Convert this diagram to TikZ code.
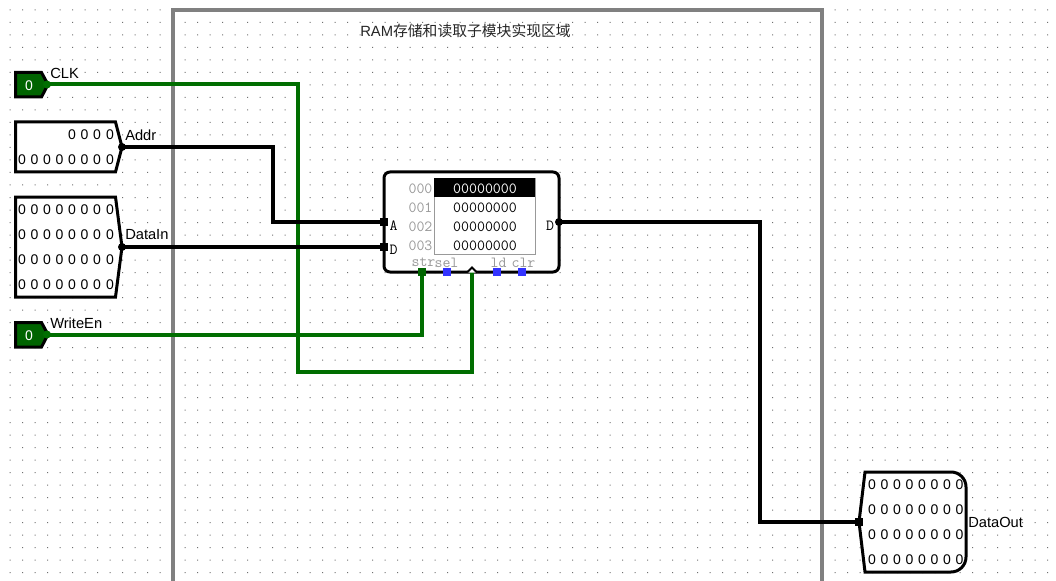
\documentclass[tikz,border=0pt]{standalone}
\usepackage{fontspec}
\setmainfont{Liberation Sans}
\newfontfamily\cjk{Noto Sans CJK SC}
\definecolor{wiregreen}{HTML}{006E00}
\definecolor{pingreen}{HTML}{006400}
\definecolor{framegray}{HTML}{808080}
\definecolor{dotgray}{HTML}{707070}
\definecolor{pinblue}{HTML}{3333FF}
\definecolor{memgray}{HTML}{999999}
\tikzset{
  x=0.75pt,y=-0.75pt,
  lbl/.style={inner sep=0pt,font=\fontsize{11}{12}\selectfont,text=black,anchor=west},
  dig/.style={inner sep=0pt,font=\fontsize{10.5}{12}\selectfont},
  mem/.style={inner sep=0pt,font=\ttfamily\fontsize{11.6}{12}\selectfont},
  memlab/.style={mem,text=memgray},
  pinbox/.style={draw=black,line width=2.25pt,fill=white,line join=miter},
  inbit/.style={draw=black,line width=2.25pt,fill=pingreen,line join=miter},
  bwire/.style={draw=black,line width=3pt},
  gwire/.style={draw=wiregreen,line width=3pt},
  sq/.style={inner sep=0pt,minimum size=5.6pt,draw=none,fill=#1,shape=rectangle},
  dotpin/.style={inner sep=0pt,minimum size=6pt,draw=none,fill=#1,shape=circle},
}
\begin{document}
\begin{tikzpicture}
\useasboundingbox (0,0) rectangle (1056,581);
\clip (0,0) rectangle (1056,581);
\fill[white] (0,0) rectangle (1056,581);
% grid
\fill[dotgray] \foreach \gx in {9.5,22,...,1050} {\foreach \gy in {9.5,22,...,575} {(\gx,\gy) rectangle ++(1,1)}};
% frame
\draw[framegray,line width=3pt] (172.5,600) -- (172.5,10) -- (822,10) -- (822,600);
\node[inner sep=0pt,font=\fontsize{11.1}{12}\selectfont,text=black!85] (title) at (465.5,31) {RAM{\cjk 存储和读取子模块实现区域}};
% RAM
\node[draw=black,line width=2.25pt,rounded corners=4.5pt,fill=white,minimum width=131.25pt,minimum height=75pt,inner sep=0pt] (ram) at (471.5,222) {};
\node[draw=memgray,line width=.6pt,fill=white,minimum width=75.75pt,minimum height=57pt,inner sep=0pt] (table) at (484.5,216) {};
\fill[black] (434,178) rectangle (535,197);
\node[mem,text=white] (r0) at (485,188.8) {00000000};
\node[mem] (r1) at (485,207.8) {00000000};
\node[mem] (r2) at (485,226.8) {00000000};
\node[mem] (r3) at (485,245.8) {00000000};
\node[memlab] (a0) at (420.5,188.8) {000};
\node[memlab] (a1) at (420.5,207.8) {001};
\node[memlab] (a2) at (420.5,226.8) {002};
\node[memlab] (a3) at (420.5,245.8) {003};
\node[mem] (tA) at (393.5,226) {A};
\node[mem] (tD) at (393.5,250) {D};
\node[mem] (tQ) at (550,225.5) {D};
\node[memlab] (tstr) at (423.5,262.5) {str};
\node[memlab] (tsel) at (446.5,262.5) {sel};
\node[memlab] (tld) at (498.5,262.5) {ld};
\node[memlab] (tclr) at (523.5,262.5) {clr};
% pin coordinates
\coordinate (clkout) at (47,84.5);
\coordinate (addrout) at (122,147);
\coordinate (datain) at (122,247);
\coordinate (weout) at (47,334.5);
\coordinate (ramA) at (384,222);
\coordinate (ramD) at (384,247);
\coordinate (ramQ) at (559,222);
\coordinate (ramstr) at (422,272);
\coordinate (ramclk) at (472,270);
\coordinate (dout) at (859,522);
\coordinate (bendclk) at (297.5,372);
\coordinate (bendaddr) at (272.5,222);
\coordinate (bendq) at (759.5,522);
% wires
\draw[gwire] (clkout) -| (bendclk) -| (ramclk);
\draw[gwire] (weout) -| (ramstr);
\draw[bwire] (addrout) -| (bendaddr) -- (ramA);
\draw[bwire] (datain) -- (ramD);
\draw[bwire] (ramQ) -| (bendq) -- (dout);
% RAM pins
\node[sq=black] (pA) at (ramA) {};
\node[sq=black] (pD) at (ramD) {};
\node[dotpin=black] (pQ) at (ramQ) {};
\node[sq=pingreen] (pstr) at (ramstr) {};
\node[sq=pinblue] (psel) at (447,272) {};
\node[sq=pinblue] (pld) at (497,272) {};
\node[sq=pinblue] (pclr) at (522,272) {};
\draw[black,line width=1.5pt,fill=white] (467,272.5) -- (472,267.5) -- (477,272.5);
% CLK
\draw[inbit] (15.5,72.5) -- (41.5,72.5) -- (48,84.5) -- (41.5,97) -- (15.5,97) -- cycle;
\node[dig,text=white] (clk0) at (29,85.5) {0};
\node[dotpin=wiregreen] (pclk) at (clkout) {};
\node[lbl] (lclk) at (50,73) {CLK};
% WriteEn
\draw[inbit] (15.5,322.5) -- (41.5,322.5) -- (48,334.5) -- (41.5,347) -- (15.5,347) -- cycle;
\node[dig,text=white] (we0) at (29,335.5) {0};
\node[dotpin=wiregreen] (pwe) at (weout) {};
\node[lbl] (lwe) at (50,323) {WriteEn};
% Addr
\draw[pinbox] (15.5,122) -- (115.5,122) -- (122,147) -- (115.5,172) -- (15.5,172) -- cycle;
\foreach \dx in {72,84.5,97,110} \node[dig] at (\dx,135) {0};
\foreach \dx in {22,34.5,47,59.5,72,84.5,97,110} \node[dig] at (\dx,160) {0};
\node[dotpin=black] (paddr) at (addrout) {};
\node[lbl] (laddr) at (125,135) {Addr};
% DataIn
\draw[pinbox] (15.5,197) -- (115.5,197) -- (122,247) -- (115.5,297) -- (15.5,297) -- cycle;
\foreach \dy in {210,235,260,285} \foreach \dx in {22,34.5,47,59.5,72,84.5,97,110} \node[dig] at (\dx,\dy) {0};
\node[dotpin=black] (pdatain) at (datain) {};
\node[lbl] (ldatain) at (125,235) {DataIn};
% DataOut
\draw[pinbox,rounded corners=0pt] (859,522) -- (865,472) -- (951,472) to[out=0,in=90] (966,487) -- (966,557) to[out=270,in=0] (951,572) -- (865,572) -- cycle;
\foreach \dy in {485,510,535,560} \foreach \dx in {872,884.5,897,909.5,922,934.5,947,959.5} \node[dig] at (\dx,\dy) {0};
\node[sq=black] (pout) at (dout) {};
\node[lbl] (ldout) at (968,522) {DataOut};
\end{tikzpicture}
\end{document}
